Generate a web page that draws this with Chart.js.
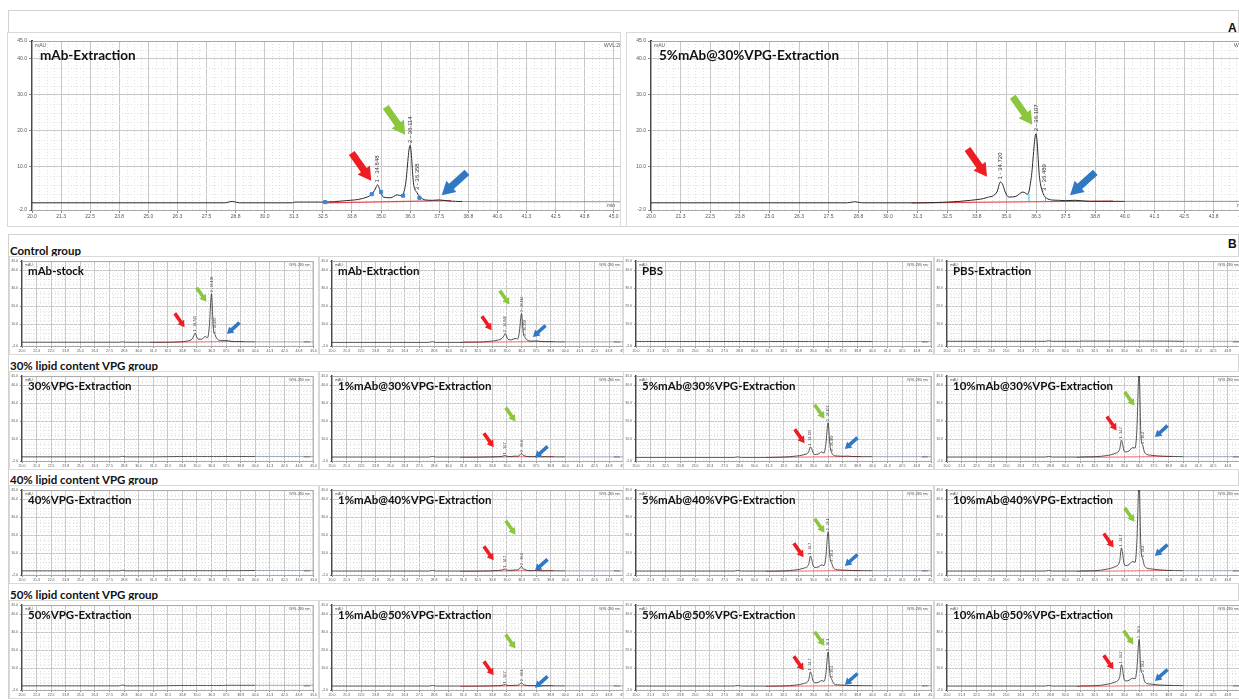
<!DOCTYPE html>
<html>
<head>
<meta charset="utf-8">
<title>SEC chromatograms</title>
<script src="https://cdn.jsdelivr.net/npm/chart.js@4.4.1/dist/chart.umd.min.js"></script>
<style>
    body { margin: 0; width: 1239px; height: 699px; overflow: hidden; background: #fff; position: relative; }
    .frame { position: absolute; border: 1px solid #d2d2d2; box-sizing: border-box; }
    .panel { position: absolute; overflow: hidden; outline: 1px solid #d9d9d9; background: #fff; }
    .panel canvas { position: absolute; left: 0; top: 0; }
    .label { position: absolute; font: bold 11.5px Lato, sans-serif; color: #111; white-space: nowrap; }
    .letter { position: absolute; font: bold 12px 'Liberation Sans', sans-serif; color: #111; }
</style>
</head>
<body>
<div class="frame" style="left:8px; top:10px; width:1231px; height:217px;"></div>
<div class="frame" style="left:8px; top:234px; width:1231px; height:465px;"></div>
<div class="letter" style="left:1228px; top:21px;">A</div>
<div class="letter" style="left:1228px; top:237px;">B</div>
<div class="label" style="left:10px; top:244px;">Control group</div>
<div class="label" style="left:10px; top:359px;">30% lipid content VPG group</div>
<div class="label" style="left:10px; top:473px;">40% lipid content VPG group</div>
<div class="label" style="left:10px; top:588px;">50% lipid content VPG group</div>
<script>
// Retention time grid (min), shared by every trace
const retentionTime = [20.0, 28.3, 28.6, 28.9, 31.2, 31.3, 32.5, 33.5, 34.2, 34.6, 34.75, 34.85, 34.95, 35.1, 35.4, 35.7, 35.9, 36.05, 36.25, 36.4, 36.55, 36.7, 36.9, 37.2, 37.5, 37.9, 38.5, 40.0, 45.0, 46.0];
const xTickValues = [20.0, 21.25, 22.5, 23.75, 25.0, 26.25, 27.5, 28.75, 30.0, 31.25, 32.5, 33.75, 35.0, 36.25, 37.5, 38.75, 40.0, 41.25, 42.5, 43.75, 45.0];
const yTickValues = [-2.0, 10.0, 20.0, 30.0, 40.0, 45.0];

// Panel A signals (mAU)
const signalAmAbExtraction = [0.0, 0.0, 0.4, 0.0, 0.0, 0.2, 0.2, 0.6, 1.2, 2.4, 3.8, 5.0, 3.6, 1.6, 1.4, 2.2, 1.9, 5.0, 16.0, 5.2, 2.8, 1.5, 0.8, 0.7, 0.8, 0.5, 0.35, 0.3, 0.3, 0.3];
const signalA5mAb30VPG = [0.0, 0.0, 0.3, 0.0, 0.0, 0.0, 0.2, 0.7, 1.5, 3.0, 5.8, 5.0, 3.0, 1.6, 1.8, 3.0, 2.4, 7.0, 19.2, 7.0, 2.6, 1.3, 0.8, 0.7, 0.6, 0.7, 0.4, 0.4, 0.4, 0.4];

// Panel B signals (mAU)
const signalStock = [0.1, 0.1, 0.3, 0.1, 0.1, 0.1, 0.1, 0.3, 0.8, 2.0, 4.0, 5.2, 3.5, 1.8, 1.8, 3.2, 2.6, 8.0, 27.0, 8.0, 4.2, 2.2, 1.2, 1.0, 1.1, 0.6, 0.4, 0.3, 0.3, 0.3];
const signalPBS = [0.5, 0.5, 0.5, 0.5, 0.4, 0.5, 0.5, 0.5, 0.5, 0.5, 0.5, 0.5, 0.5, 0.5, 0.5, 0.5, 0.5, 0.5, 0.5, 0.5, 0.5, 0.5, 0.5, 0.5, 0.5, 0.5, 0.5, 0.5, 0.5, 0.5];
const signalPBSExtraction = [0.6, 0.6, 0.9, 0.6, 0.6, 0.7, 0.7, 0.7, 0.7, 0.7, 0.7, 0.7, 0.7, 0.7, 0.7, 0.7, 0.7, 0.7, 0.7, 0.7, 0.7, 0.7, 0.7, 0.7, 0.7, 0.7, 0.7, 0.6, 0.6, 0.6];
const signal30VPG = [0.3, 0.3, 0.6, 0.3, 0.3, 0.3, 0.4, 0.5, 0.5, 0.5, 0.5, 0.5, 0.5, 0.5, 0.5, 0.5, 0.5, 0.5, 0.5, 0.5, 0.5, 0.5, 0.5, 0.5, 0.5, 0.5, 0.5, 0.5, 0.5, 0.5];
const signal1mAb30VPG = [0.2, 0.2, 0.5, 0.2, 0.2, 0.2, 0.2, 0.3, 0.4, 0.6, 0.9, 1.0, 0.7, 0.5, 0.5, 0.7, 0.6, 1.0, 2.2, 1.1, 0.8, 0.5, 0.4, 0.4, 0.4, 0.3, 0.3, 0.3, 0.3, 0.3];
const signal10mAb30VPG = [0.2, 0.2, 0.5, 0.2, 0.2, 0.3, 0.4, 1.0, 2.2, 4.5, 9.5, 7.5, 4.0, 3.0, 3.6, 5.4, 5.2, 14.0, 48.0, 12.0, 6.7, 3.0, 1.6, 1.2, 1.0, 0.8, 0.6, 0.4, 0.4, 0.4];
const signal40VPG = [0.3, 0.3, 0.6, 0.3, 0.3, 0.3, 0.4, 0.4, 0.4, 0.4, 0.4, 0.4, 0.4, 0.4, 0.4, 0.4, 0.4, 0.4, 0.4, 0.4, 0.4, 0.4, 0.4, 0.4, 0.4, 0.4, 0.4, 0.5, 0.5, 0.5];
const signal1mAb40VPG = [0.2, 0.2, 0.5, 0.2, 0.2, 0.2, 0.2, 0.3, 0.5, 0.8, 1.2, 1.3, 0.9, 0.6, 0.6, 0.8, 0.8, 1.3, 2.8, 1.3, 1.0, 0.6, 0.4, 0.4, 0.4, 0.3, 0.3, 0.3, 0.3, 0.3];
const signal5mAb40VPG = [0.2, 0.2, 0.5, 0.2, 0.2, 0.2, 0.3, 0.8, 1.8, 3.8, 8.5, 7.0, 3.8, 2.2, 2.4, 3.6, 3.2, 7.5, 22.0, 8.0, 4.5, 2.0, 1.0, 0.8, 0.7, 0.6, 0.4, 0.4, 0.4, 0.4];
const signal10mAb40VPG = [0.2, 0.2, 0.5, 0.2, 0.2, 0.3, 0.4, 1.2, 2.6, 5.5, 13.0, 10.0, 5.0, 3.2, 3.8, 5.5, 5.0, 15.0, 50.0, 13.0, 7.0, 3.2, 1.8, 1.4, 1.2, 0.9, 0.6, 0.4, 0.4, 0.4];
const signal50VPG = [0.3, 0.3, 0.7, 0.3, 0.3, 0.3, 0.4, 0.5, 0.5, 0.5, 0.5, 0.5, 0.5, 0.5, 0.5, 0.5, 0.5, 0.5, 0.5, 0.5, 0.5, 0.5, 0.5, 0.5, 0.6, 0.6, 0.6, 0.6, 0.6, 0.6];
const signal1mAb50VPG = [0.2, 0.2, 0.5, 0.2, 0.2, 0.2, 0.2, 0.3, 0.4, 0.6, 0.9, 1.0, 0.7, 0.5, 0.5, 0.6, 0.6, 1.0, 2.0, 1.0, 0.7, 0.5, 0.4, 0.4, 0.4, 0.3, 0.3, 0.3, 0.3, 0.3];
const signal5mAb50VPG = [0.2, 0.2, 0.5, 0.2, 0.2, 0.2, 0.3, 0.7, 1.6, 3.5, 8.0, 6.5, 3.5, 2.0, 2.2, 3.2, 2.8, 6.5, 19.0, 7.0, 4.0, 1.8, 1.0, 0.8, 0.7, 0.6, 0.4, 0.4, 0.4, 0.4];
const signal10mAb50VPG = [0.2, 0.2, 0.5, 0.2, 0.2, 0.3, 0.4, 1.1, 2.4, 5.0, 12.0, 9.5, 4.8, 3.0, 3.4, 4.5, 4.2, 9.0, 26.0, 9.0, 7.0, 3.0, 1.6, 1.3, 1.1, 0.8, 0.6, 0.4, 0.4, 0.4];

// Integration baselines [min, mAU]
const baselineAmAbExtraction = [[32.5, 0.0], [38.0, 0.6]];
const baselineA5mAb30VPG = [[31.0, 0.0], [39.5, 0.5]];
const baselineSample = [[31.0, 0.0], [39.0, 0.5]];

// Peak boundary marks
const markersAmAbExtraction = [[32.6, 0.2], [34.6, 2.4], [35.0, 3.0], [35.95, 2.0], [36.65, 1.4]];
const dropLinesA5mAb30VPG = [[35.95, 0.4, 2.4], [36.65, 0.45, 1.5]];

// Peak labels [min, mAU, text]
const peaksAmAbExtraction = [[34.85, 5.0, '1 - 34.848'], [36.25, 16.0, '2 - 36.114'], [36.58, 2.8, '3 - 36.358']];
const peaksA5mAb30VPG = [[34.75, 5.8, '1 - 34.720'], [36.25, 19.2, '2 - 36.107'], [36.62, 2.6, '3 - 36.489']];
const peaksStock = [[34.85, 5.2, '1 - 34.745'], [36.25, 27.0, '2 - 36.108'], [36.58, 4.2, '3 - 36.460']];

// Arrows [colour, min, mAU] (arrow centre)
const arrowsAmAbExtraction = [['red', 34.16, 10.0], ['green', 35.62, 22.8], ['blue', 38.15, 5.3]];
const arrowsA5mAb30VPG = [['red', 33.77, 11.1], ['green', 35.68, 25.6], ['blue', 38.22, 5.3]];
const arrowsStock = [['red', 33.52, 12.2], ['green', 35.39, 26.4], ['blue', 38.11, 7.8]];
const arrowsExtraction = [['red', 33.27, 10.6], ['green', 34.8, 24.8], ['blue', 37.77, 6.2]];
const arrows1mAb30VPG = [['red', 33.44, 9.5], ['green', 35.31, 23.7], ['blue', 37.94, 2.9]];
const arrows5mAb30VPG = [['red', 33.84, 11.7], ['green', 35.52, 25.3], ['blue', 38.2, 7.8]];
const arrows10mAb30VPG = [['red', 33.93, 18.8], ['green', 35.44, 32.4], ['blue', 38.12, 14.4]];
const arrows1mAb40VPG = [['red', 33.44, 10.0], ['green', 35.31, 24.2], ['blue', 37.94, 3.5]];
const arrows5mAb40VPG = [['red', 33.76, 11.7], ['green', 35.52, 25.3], ['blue', 38.2, 6.2]];
const arrows10mAb40VPG = [['red', 33.67, 17.1], ['green', 35.44, 31.3], ['blue', 38.12, 11.7]];
const arrows1mAb50VPG = [['red', 33.44, 10.0], ['green', 35.31, 24.8], ['blue', 37.94, 2.4]];
const arrows5mAb50VPG = [['red', 33.76, 12.8], ['green', 35.52, 26.4], ['blue', 38.2, 4.0]];
const arrows10mAb50VPG = [['red', 33.67, 13.3], ['green', 35.35, 27.0], ['blue', 38.12, 6.2]];

const arrowColors = { red: '#ee1d24', green: '#8cc63f', blue: '#2f78c4' };

const bigStyle = {
    yAxisWidth: 24, xAxisHeight: 16, padTop: 8, tickSize: 5, tickLen: 3, yBorder: 2,
    traceWidth: 1, baseWidth: 1.2, titleSize: 13.5, titleDx: 8, titleDy: 15, tinySize: 5, labelSize: 6,
    arrow: { len: 34, shaft: 7, head: 15, headLen: 13 }, minOff: 22
};
const smallStyle = {
    yAxisWidth: 12, xAxisHeight: 8, padTop: 3, tickSize: 3.5, tickLen: 2, yBorder: 1.5,
    traceWidth: 0.8, baseWidth: 0.8, titleSize: 11.5, titleDx: 6, titleDy: 10, tinySize: 3.5, labelSize: 3.5,
    arrow: { len: 17, shaft: 3.6, head: 8, headLen: 6.5 }, minOff: 4
};

Chart.defaults.font.family = "'Liberation Sans', sans-serif";

Initialize();

function Initialize()
{
    // Panel A
    CreatePanel({ box: [8, 33, 612, 193], canvasWidth: 634, xMax: 46, style: bigStyle,
        title: 'mAb-Extraction', signal: signalAmAbExtraction, baseline: baselineAmAbExtraction, tailFrom: 38.0,
        markers: markersAmAbExtraction, peaks: peaksAmAbExtraction, arrows: arrowsAmAbExtraction });
    CreatePanel({ box: [627, 33, 612, 193], canvasWidth: 642, xMax: 46, style: bigStyle,
        title: '5%mAb@30%VPG-Extraction', signal: signalA5mAb30VPG, baseline: baselineA5mAb30VPG, tailFrom: 39.5,
        dropLines: dropLinesA5mAb30VPG, peaks: peaksA5mAb30VPG, arrows: arrowsA5mAb30VPG });

    // Panel B, 4 x 4 grid
    const colLeft = [10, 320, 624, 935];
    const colCanvas = [308, 308, 312, 312];
    const colWidth = [308, 308, 309, 304];
    const rowTop = [257, 372, 486, 601];

    const grid = [
        [
            { title: 'mAb-stock', signal: signalStock, baseline: baselineSample, peaks: peaksStock, arrows: arrowsStock },
            { title: 'mAb-Extraction', signal: signalAmAbExtraction, baseline: baselineSample, peaks: peaksAmAbExtraction, arrows: arrowsExtraction },
            { title: 'PBS', signal: signalPBS },
            { title: 'PBS-Extraction', signal: signalPBSExtraction }
        ],
        [
            { title: '30%VPG-Extraction', signal: signal30VPG },
            { title: '1%mAb@30%VPG-Extraction', signal: signal1mAb30VPG, baseline: baselineSample, arrows: arrows1mAb30VPG,
              peaks: [[34.85, 1.0, '1 - 34.7'], [36.25, 2.2, '2 - 36.1']] },
            { title: '5%mAb@30%VPG-Extraction', signal: signalA5mAb30VPG, baseline: baselineSample, peaks: peaksA5mAb30VPG, arrows: arrows5mAb30VPG },
            { title: '10%mAb@30%VPG-Extraction', signal: signal10mAb30VPG, baseline: baselineSample, arrows: arrows10mAb30VPG,
              peaks: [[34.75, 9.5, '1 - 34.7'], [36.25, 44.0, '2 - 36.1'], [36.58, 6.7, '3 - 36.4']] }
        ],
        [
            { title: '40%VPG-Extraction', signal: signal40VPG },
            { title: '1%mAb@40%VPG-Extraction', signal: signal1mAb40VPG, baseline: baselineSample, arrows: arrows1mAb40VPG,
              peaks: [[34.85, 1.3, '1 - 34.7'], [36.25, 2.8, '2 - 36.1']] },
            { title: '5%mAb@40%VPG-Extraction', signal: signal5mAb40VPG, baseline: baselineSample, arrows: arrows5mAb40VPG,
              peaks: [[34.75, 8.5, '1 - 34.7'], [36.25, 22.0, '2 - 36.1'], [36.58, 4.5, '3 - 36.4']] },
            { title: '10%mAb@40%VPG-Extraction', signal: signal10mAb40VPG, baseline: baselineSample, arrows: arrows10mAb40VPG,
              peaks: [[34.75, 13.0, '1 - 34.7'], [36.25, 44.0, '2 - 36.1'], [36.58, 7.0, '3 - 36.4']] }
        ],
        [
            { title: '50%VPG-Extraction', signal: signal50VPG },
            { title: '1%mAb@50%VPG-Extraction', signal: signal1mAb50VPG, baseline: baselineSample, arrows: arrows1mAb50VPG,
              peaks: [[34.85, 1.0, '1 - 34.7'], [36.25, 2.0, '2 - 36.1']] },
            { title: '5%mAb@50%VPG-Extraction', signal: signal5mAb50VPG, baseline: baselineSample, arrows: arrows5mAb50VPG,
              peaks: [[34.75, 8.0, '1 - 34.7'], [36.25, 19.0, '2 - 36.1'], [36.58, 4.0, '3 - 36.4']] },
            { title: '10%mAb@50%VPG-Extraction', signal: signal10mAb50VPG, baseline: baselineSample, arrows: arrows10mAb50VPG,
              peaks: [[34.75, 12.0, '1 - 34.7'], [36.25, 26.0, '2 - 36.1'], [36.58, 7.0, '3 - 36.4']] }
        ]
    ];

    grid.forEach((row, r) => row.forEach((cell, c) =>
    {
        CreatePanel(Object.assign({
            box: [colLeft[c], rowTop[r], colWidth[c], 97],
            canvasWidth: colCanvas[c], xMax: 45, style: smallStyle, tailFrom: 39.0
        }, cell));
    }));
}

function CreatePanel(p)
{
    const s = p.style;
    const div = document.createElement('div');
    div.className = 'panel';
    div.style.left = p.box[0] + 'px';
    div.style.top = p.box[1] + 'px';
    div.style.width = p.box[2] + 'px';
    div.style.height = p.box[3] + 'px';
    const canvas = document.createElement('canvas');
    canvas.width = p.canvasWidth;
    canvas.height = p.box[3];
    div.appendChild(canvas);
    document.body.appendChild(div);

    const traceColor = '#2a2a2a';
    const tailColor = '#8793a8';
    const tailFrom = p.tailFrom || 99;

    const datasets = [
        {
            data: retentionTime.map((t, i) => ({ x: t, y: p.signal[i] })),
            borderColor: traceColor,
            borderWidth: s.traceWidth,
            pointRadius: 0,
            cubicInterpolationMode: 'monotone',
            segment: { borderColor: ctx => ctx.p0.parsed.x >= tailFrom ? tailColor : traceColor }
        }
    ];
    if (p.baseline)
    {
        datasets.push({
            data: p.baseline.map(b => ({ x: b[0], y: b[1] })),
            borderColor: '#e5474e', borderWidth: s.baseWidth, pointRadius: 0
        });
    }
    if (p.markers)
    {
        datasets.unshift({
            data: p.markers.map(m => ({ x: m[0], y: m[1] })),
            showLine: false, pointStyle: 'rect', pointRadius: 2.2,
            pointBackgroundColor: '#3a86d8', pointBorderColor: '#3a86d8'
        });
    }
    if (p.dropLines)
    {
        p.dropLines.forEach(d => datasets.push({
            data: [{ x: d[0], y: d[1] }, { x: d[0], y: d[2] }],
            borderColor: '#37c8e6', borderWidth: 1, pointRadius: 0
        }));
    }

    new Chart(canvas, {
        type: 'line',
        data: { datasets: datasets },
        options: {
            responsive: false,
            animation: false,
            devicePixelRatio: 1,
            layout: { padding: { top: s.padTop, right: 2, left: 0, bottom: 0 } },
            plugins: { legend: { display: false }, tooltip: { enabled: false } },
            scales: {
                x: {
                    type: 'linear', min: 20, max: p.xMax,
                    afterBuildTicks: sc => { sc.ticks = xTickValues.map(v => ({ value: v })); },
                    afterFit: sc => { sc.height = s.xAxisHeight; },
                    ticks: { font: { size: s.tickSize }, color: '#555', padding: 1, maxRotation: 0, autoSkip: false,
                             callback: v => Number(v).toFixed(1) },
                    grid: { color: '#c8c8c8', tickLength: s.tickLen, tickColor: '#8a8a8a' },
                    border: { color: '#8a8a8a', width: 1 }
                },
                y: {
                    type: 'linear', min: yTickValues[0], max: yTickValues[yTickValues.length - 1],
                    afterBuildTicks: sc => { sc.ticks = yTickValues.map(v => ({ value: v })); },
                    afterFit: sc => { sc.width = s.yAxisWidth; },
                    ticks: { font: { size: s.tickSize }, color: '#555', padding: 2,
                             callback: v => Number(v).toFixed(1) },
                    grid: { color: '#c8c8c8', tickLength: s.tickLen, tickColor: '#8a8a8a' },
                    border: { color: '#4a4a4a', width: s.yBorder }
                }
            }
        },
        plugins: [MakeDecorPlugin(p, s)]
    });
}

function MakeDecorPlugin(p, s)
{
    return {
        id: 'decor',
        beforeDatasetsDraw(chart)
        {
            const ctx = chart.ctx;
            const a = chart.chartArea;
            const xs = chart.scales.x;
            const ys = chart.scales.y;
            ctx.save();
            // minor dotted grid
            ctx.strokeStyle = '#e1e1e1';
            ctx.lineWidth = 1;
            ctx.setLineDash([1, 2]);
            ctx.beginPath();
            for (let k = 1; 20 + k * 0.3125 < p.xMax; k++)
            {
                if (k % 4 === 0) continue;
                const px = Math.round(xs.getPixelForValue(20 + k * 0.3125)) + 0.5;
                ctx.moveTo(px, a.top);
                ctx.lineTo(px, a.bottom);
            }
            for (let k = 1; k * 2.5 < 45; k++)
            {
                if (k % 4 === 0) continue;
                const py = Math.round(ys.getPixelForValue(k * 2.5)) + 0.5;
                ctx.moveTo(a.left, py);
                ctx.lineTo(a.right, py);
            }
            ctx.stroke();
            ctx.setLineDash([]);
            // plot frame
            ctx.strokeStyle = '#a9a9a9';
            ctx.strokeRect(a.left + 0.5, a.top + 0.5, a.right - a.left - 1, a.bottom - a.top);
            ctx.restore();
        },
        afterDatasetsDraw(chart)
        {
            const ctx = chart.ctx;
            const a = chart.chartArea;
            const xs = chart.scales.x;
            const ys = chart.scales.y;
            ctx.save();
            ctx.beginPath();
            ctx.rect(a.left, a.top, a.right - a.left, a.bottom - a.top);
            ctx.clip();

            // peak labels, rotated
            ctx.fillStyle = '#333';
            ctx.font = s.labelSize + "px 'Liberation Sans', sans-serif";
            ctx.textAlign = 'left';
            ctx.textBaseline = 'middle';
            (p.peaks || []).forEach(pk =>
            {
                const px = xs.getPixelForValue(pk[0]);
                const py = ys.getPixelForValue(pk[1]) - s.labelSize * 0.4;
                ctx.save();
                ctx.translate(px, py);
                ctx.rotate(-Math.PI / 2);
                ctx.fillText(pk[2], 0, 0);
                ctx.restore();
            });

            // arrows
            (p.arrows || []).forEach(ar =>
            {
                const cx = xs.getPixelForValue(ar[1]);
                const cy = ys.getPixelForValue(ar[2]);
                const angle = ar[0] === 'blue' ? 138 * Math.PI / 180 : 55 * Math.PI / 180;
                DrawArrow(ctx, cx, cy, angle, s.arrow, arrowColors[ar[0]]);
            });

            // small texts
            ctx.fillStyle = '#555';
            ctx.font = s.tinySize + "px 'Liberation Sans', sans-serif";
            ctx.textBaseline = 'top';
            ctx.textAlign = 'left';
            ctx.fillText('mAU', a.left + 3, a.top + 2);
            ctx.textAlign = 'right';
            ctx.fillText('WVL:280 nm', a.right - 4, a.top + 2);
            ctx.textBaseline = 'bottom';
            ctx.fillText('min', a.right - s.minOff, a.bottom - 2);

            // title
            ctx.fillStyle = '#111';
            ctx.font = 'bold ' + s.titleSize + 'px Lato, sans-serif';
            ctx.textAlign = 'left';
            ctx.textBaseline = 'middle';
            ctx.fillText(p.title, a.left + s.titleDx, a.top + s.titleDy);
            ctx.restore();
        }
    };
}

function DrawArrow(ctx, cx, cy, angle, g, color)
{
    const h = g.len / 2;
    ctx.save();
    ctx.translate(cx, cy);
    ctx.rotate(angle);
    ctx.beginPath();
    ctx.moveTo(-h, -g.shaft / 2);
    ctx.lineTo(h - g.headLen, -g.shaft / 2);
    ctx.lineTo(h - g.headLen, -g.head / 2);
    ctx.lineTo(h, 0);
    ctx.lineTo(h - g.headLen, g.head / 2);
    ctx.lineTo(h - g.headLen, g.shaft / 2);
    ctx.lineTo(-h, g.shaft / 2);
    ctx.closePath();
    ctx.fillStyle = color;
    ctx.fill();
    ctx.restore();
}
</script>
</body>
</html>
